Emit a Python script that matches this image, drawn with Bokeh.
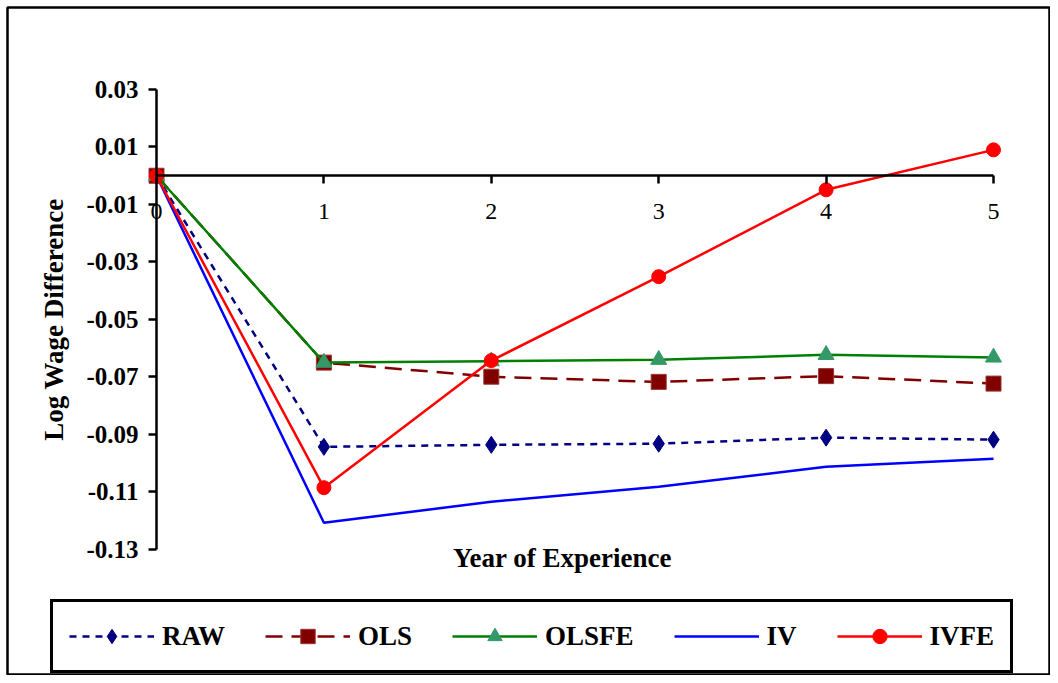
from bokeh.plotting import figure
from bokeh.models import Range1d, LinearAxis, FixedTicker, PrintfTickFormatter, Label
from bokeh.embed import file_html
from bokeh.resources import INLINE

years = [0, 1, 2, 3, 4, 5]
raw = [0.0, -0.0943, -0.0936, -0.0932, -0.0911, -0.0918]
ols = [0.0, -0.0650, -0.0699, -0.0717, -0.0697, -0.0723]
olsfe = [0.0, -0.0650, -0.0645, -0.0640, -0.0623, -0.0632]
iv = [0.0, -0.1207, -0.1134, -0.1082, -0.1012, -0.0984]
ivfe = [0.0, -0.1085, -0.0643, -0.0351, -0.0049, 0.0090]
y_ticks = [0.03, 0.01, -0.01, -0.03, -0.05, -0.07, -0.09, -0.11, -0.13]
x_ticks = [0, 1, 2, 3, 4, 5]

FONT = "Liberation Serif"

p = figure(width=1050, height=675, output_backend="svg", toolbar_location=None,
           x_range=Range1d(-0.8901, 5.3405), y_range=Range1d(-0.17383, 0.05852),
           x_axis_location=None, y_axis_location=None,
           min_border_left=7, min_border_top=7, min_border_right=0, min_border_bottom=0)
p.grid.visible = False
p.outline_line_color = "black"
p.outline_line_width = 2.5
p.outline_line_alpha = 1
p.background_fill_color = "white"
p.border_fill_color = "white"

xaxis = LinearAxis(fixed_location=0, bounds=(0, 5), ticker=FixedTicker(ticks=x_ticks))
xaxis.axis_line_width = 2.5
xaxis.axis_line_color = "black"
xaxis.major_tick_in = 0
xaxis.major_tick_out = 8
xaxis.major_tick_line_width = 2.5
xaxis.minor_tick_line_color = None
xaxis.major_label_text_font = FONT
xaxis.major_label_text_font_size = "24px"
xaxis.major_label_text_color = "black"
xaxis.major_label_standoff = 20
p.add_layout(xaxis, "below")

yaxis = LinearAxis(fixed_location=0, bounds=(-0.13, 0.03), ticker=FixedTicker(ticks=y_ticks),
                   formatter=PrintfTickFormatter(format="%.2f"))
yaxis.axis_line_width = 2.5
yaxis.axis_line_color = "black"
yaxis.major_tick_in = 0
yaxis.major_tick_out = 8
yaxis.major_tick_line_width = 2.5
yaxis.minor_tick_line_color = None
yaxis.major_label_text_font = FONT
yaxis.major_label_text_font_style = "bold"
yaxis.major_label_text_font_size = "25px"
yaxis.major_label_text_color = "black"
yaxis.major_label_standoff = 10
yaxis.axis_label = "Log Wage Difference"
yaxis.axis_label_text_font = FONT
yaxis.axis_label_text_font_style = "bold"
yaxis.axis_label_text_font_size = "27px"
yaxis.axis_label_text_color = "black"
yaxis.axis_label_standoff = 14
p.add_layout(yaxis, "left")

p.line(years, raw, line_color="#000080", line_width=2.5, line_dash="7 6", legend_label="RAW")
p.scatter(years, raw, marker="diamond", size=17, fill_color="#000080", line_color="#000080", legend_label="RAW")

p.line(years, ols, line_color="#800000", line_width=2.5, line_dash="17 9", legend_label="OLS")
p.scatter(years, ols, marker="square", size=15, fill_color="#800000", line_color="#993333", legend_label="OLS")

p.line(years, olsfe, line_color="#008000", line_width=2.5, legend_label="OLSFE")
p.scatter(years, olsfe, marker="triangle", size=16, fill_color="#339966", line_color="#339966", legend_label="OLSFE")

p.line(years, iv, line_color="#0000FF", line_width=2.5, legend_label="IV")

p.line(years, ivfe, line_color="#FF0000", line_width=2.5, legend_label="IVFE")
p.scatter(years, ivfe, marker="circle", size=14, fill_color="#FF0000", line_color="#FF0000", legend_label="IVFE")

xlabel = Label(x=2.425, y=-0.1328, text="Year of Experience", text_align="center",
               text_baseline="middle", text_font=FONT, text_font_style="bold",
               text_font_size="27px", text_color="black")
p.add_layout(xlabel)

lg = p.legend[0]
lg.orientation = "horizontal"
lg.location = (43, 2)
lg.glyph_width = 85
lg.glyph_height = 36
lg.label_standoff = 8
lg.spacing = 40
lg.padding = 16
lg.margin = 0
lg.border_line_color = "black"
lg.border_line_width = 3
lg.border_line_alpha = 1
lg.background_fill_alpha = 1
lg.label_text_font = FONT
lg.label_text_font_style = "bold"
lg.label_text_font_size = "27px"
lg.label_text_color = "black"

open("out.html", "w").write(file_html(p, INLINE))
